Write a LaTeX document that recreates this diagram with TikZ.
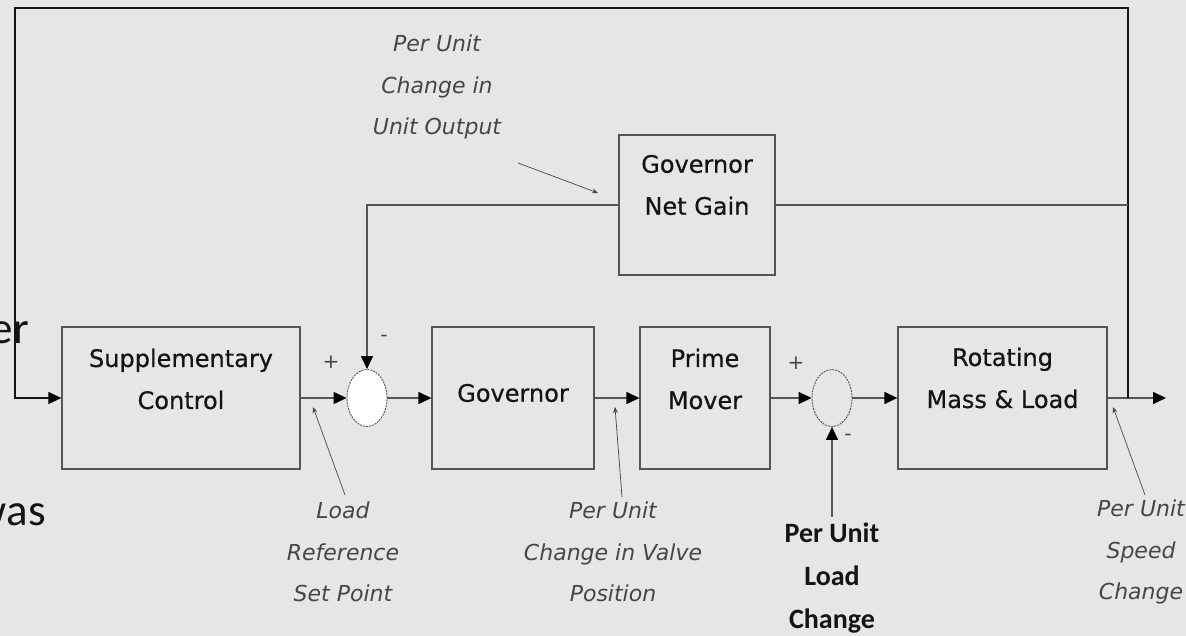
\documentclass[tikz,border=0pt]{standalone}
\usepackage{fontspec}
\setmainfont{DejaVu Sans}
\newfontfamily\carl{Carlito}
\newfontfamily\boxfont[FakeBold=0.6]{DejaVu Sans}
\usetikzlibrary{arrows.meta,shapes.geometric}
\definecolor{bg}{RGB}{230,230,232}
\definecolor{ln}{RGB}{85,85,85}
\definecolor{ann}{RGB}{70,70,70}
\definecolor{dk}{RGB}{20,20,20}
\begin{document}
\begin{tikzpicture}[x=1pt,y=-1pt,
  blk/.style={draw=ln,line width=1.3pt,inner sep=0pt},
  btxt/.style={align=center,text=dk,font=\boxfont\fontsize{24}{42}\selectfont,inner sep=0pt},
  sumj/.style={draw=ln,line width=0.9pt,dash pattern=on 2pt off 1pt,ellipse,minimum width=40pt,minimum height=57pt,inner sep=0pt},
  wire/.style={draw=ln,line width=1.3pt},
  arr/.style={wire,-{Triangle[length=13pt,width=12pt,fill=black,color=black]}},
  annarr/.style={draw=ann,line width=0.7pt,-{Stealth[length=6pt,width=5pt]}},
  anntxt/.style={align=center,text=ann,font=\fontsize{22}{41.5}\selectfont\itshape,inner sep=0pt},
  sign/.style={text=ann,font=\fontsize{20}{20}\selectfont,inner sep=0pt},
  bgtxt/.style={text=dk,font=\carl\fontsize{45}{45}\selectfont,inner sep=0pt}]
\fill[bg] (0,0) rectangle (1186,636);
\useasboundingbox (0,0) rectangle (1186,636);
% background slide text fragments
\node[bgtxt,anchor=base east] (bg1) at (29,343) {er};
\node[bgtxt,anchor=base east] (bg2) at (46,525) {was};
% blocks
\node[blk,minimum width=238pt,minimum height=142pt] (sc) at (181,398) {};
\node[btxt] (sct) at (181,379) {Supplementary\\Control};
\node[blk,minimum width=162pt,minimum height=142pt] (gov) at (513,398) {};
\node[btxt] (govt) at (513,393) {Governor};
\node[blk,minimum width=130pt,minimum height=142pt] (pm) at (705,398) {};
\node[btxt] (pmt) at (705,379) {Prime\\Mover};
\node[blk,minimum width=209pt,minimum height=142pt] (rot) at (1002.5,398) {};
\node[btxt] (rott) at (1002.5,378) {Rotating\\Mass \& Load};
\node[blk,minimum width=156pt,minimum height=140pt] (gng) at (697,205) {};
\node[btxt] (gngt) at (697,185) {Governor\\Net Gain};
% summing junctions
\node[sumj,fill=white] (s1) at (367,398) {};
\node[sumj] (s2) at (832,398) {};
% coordinates
\coordinate (j) at (1128,398);
\coordinate (tr) at (1128,8);
\coordinate (tl) at (15,8);
\coordinate (out) at (1166,398);
\coordinate (lc) at (832,517);
% main path
\draw[arr] (sc.east) -- (s1.west);
\draw[arr] (s1.east) -- (gov.west);
\draw[arr] (gov.east) -- (pm.west);
\draw[arr] (pm.east) -- (s2.west);
\draw[arr] (s2.east) -- (rot.west);
\draw[arr] (rot.east) -- (out);
% feedback loops
\draw[arr,draw=dk] (j) -- (tr) -- (tl) |- (sc.west);
\draw[wire] (gng.east) -- (gng.east -| tr);
\draw[arr] (gng.west) -| (s1.north);
\draw[arr] (lc) -- (s2.south);
% signs
\node[sign] (p1) at (331,362) {+};
\node[sign] (m1) at (384,338) {-};
\node[sign] (p2) at (796,363) {+};
\node[sign] (m2) at (848,437) {-};
% annotations
\node[anntxt] (t1) at (437,87) {Per Unit\\Change in\\Unit Output};
\coordinate (a1s) at (518,163);
\coordinate (a1e) at (598,193);
\draw[annarr] (a1s) -- (a1e);
\node[anntxt] (t2) at (343,552) {Load\\Reference\\Set Point};
\coordinate (a2s) at (345,495);
\coordinate (a2e) at (313,407);
\draw[annarr] (a2s) -- (a2e);
\node[anntxt] (t3) at (613,552) {Per Unit\\Change in Valve\\Position};
\coordinate (a3s) at (622,497);
\coordinate (a3e) at (615,407);
\draw[annarr] (a3s) -- (a3e);
\node[anntxt] (t4) at (1141,552) {Per Unit\\Speed\\Change};
\coordinate (a4s) at (1145,495);
\coordinate (a4e) at (1113,407);
\draw[annarr] (a4s) -- (a4e);
\node[align=center,text=dk,font=\carl\bfseries\fontsize{28}{43}\selectfont,inner sep=0pt] (t5) at (832,578) {Per Unit\\Load\\Change};
\end{tikzpicture}
\end{document}
